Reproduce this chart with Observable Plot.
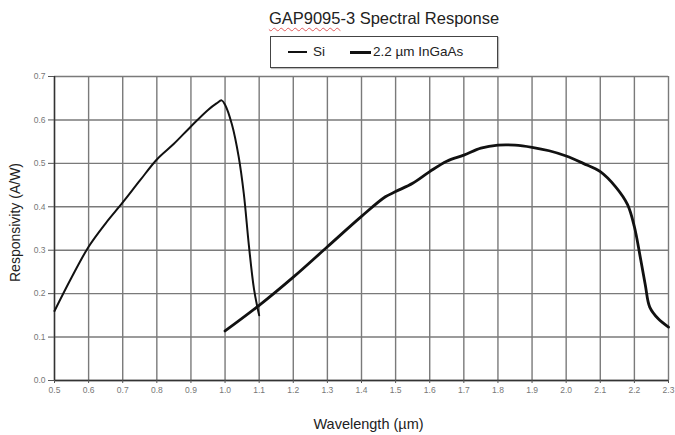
<!DOCTYPE html>
<html>
<head>
<meta charset="utf-8">
<script src="https://cdn.jsdelivr.net/npm/d3@7"></script>
<script src="https://cdn.jsdelivr.net/npm/@observablehq/plot@0.6"></script>
<style>
  html, body { margin: 0; padding: 0; background: #fff; }
  body { width: 675px; height: 435px; overflow: hidden; font-family: "Liberation Sans", Arial, sans-serif; }
  #header { position: relative; width: 675px; height: 70px; }
  #title { position: absolute; left: 184px; width: 400px; top: 9px; text-align: center; font-size: 16.5px; color: #222; }
  #title .sq { text-decoration: underline wavy #e05a5a; text-decoration-thickness: 1px; text-underline-offset: 3px; }
  #legend { position: absolute; left: 270px; top: 36px; width: 226px; height: 30px; border: 1px solid #444; box-shadow: 1px 1px 1px #bbb; font-size: 13.5px; color: #222; }
  .item { position: absolute; top: 7px; white-space: nowrap; }
  .swatch { position: absolute; height: 0; border-top-style: solid; border-top-color: #111; }
  #chart svg { display: block; }
</style>
</head>
<body>
<div id="header">
  <div id="title"><span class="sq">GAP9095</span>-3 Spectral Response</div>
  <div id="legend"></div>
</div>
<div id="chart"></div>
<script>
// ---- data ----
const seriesNames = ["Si", "2.2 µm InGaAs"];

const siWavelength = [0.5, 0.55, 0.6, 0.65, 0.7, 0.75, 0.8, 0.85, 0.9, 0.95, 0.975, 0.99, 1.0, 1.02, 1.04, 1.055, 1.07, 1.085, 1.1];
const siResponse   = [0.16, 0.237, 0.308, 0.362, 0.41, 0.46, 0.509, 0.545, 0.585, 0.623, 0.638, 0.645, 0.635, 0.59, 0.515, 0.43, 0.31, 0.21, 0.15];

const ingaasWavelength = [1.0, 1.1, 1.2, 1.3, 1.4, 1.47, 1.5, 1.55, 1.6, 1.65, 1.7, 1.75, 1.8, 1.85, 1.9, 1.95, 2.0, 2.05, 2.1, 2.145, 2.18, 2.2, 2.217, 2.232, 2.245, 2.27, 2.3];
const ingaasResponse   = [0.114, 0.173, 0.238, 0.308, 0.378, 0.423, 0.435, 0.454, 0.481, 0.505, 0.519, 0.535, 0.542, 0.542, 0.537, 0.529, 0.517, 0.5, 0.481, 0.446, 0.405, 0.354, 0.285, 0.22, 0.169, 0.142, 0.123];

const xTicks = [0.5, 0.6, 0.7, 0.8, 0.9, 1.0, 1.1, 1.2, 1.3, 1.4, 1.5, 1.6, 1.7, 1.8, 1.9, 2.0, 2.1, 2.2, 2.3];
const yTicks = [0.0, 0.1, 0.2, 0.3, 0.4, 0.5, 0.6, 0.7];

const xLabel = "Wavelength (µm)";
const yLabel = "Responsivity (A/W)";

// ---- build ----
const si = siWavelength.map((w, i) => ({w, r: siResponse[i]}));
const ingaas = ingaasWavelength.map((w, i) => ({w, r: ingaasResponse[i]}));

// legend
const legend = document.getElementById("legend");
const legendSpec = [
  {name: seriesNames[0], lx: 17, lw: 19, sw: 2, tx: 42},
  {name: seriesNames[1], lx: 79, lw: 21, sw: 3, tx: 102}
];
for (const s of legendSpec) {
  const sw = document.createElement("div");
  sw.className = "swatch";
  sw.style.left = s.lx + "px";
  sw.style.width = s.lw + "px";
  sw.style.top = (15 - s.sw / 2) + "px";
  sw.style.borderTopWidth = s.sw + "px";
  legend.appendChild(sw);
  const t = document.createElement("div");
  t.className = "item";
  t.style.left = s.tx + "px";
  t.textContent = s.name;
  legend.appendChild(t);
}

const chart = Plot.plot({
  width: 675,
  height: 365,
  marginTop: 6,
  marginBottom: 55,
  marginLeft: 54,
  marginRight: 7,
  style: {fontFamily: "'Liberation Sans', Arial, sans-serif", background: "#fff"},
  x: {domain: [0.5, 2.3]},
  y: {domain: [0, 0.7]},
  marks: [
    Plot.ruleX(xTicks, {stroke: "#7a7a7a", strokeWidth: 1.4}),
    Plot.ruleY(yTicks, {stroke: "#7a7a7a", strokeWidth: 1.4}),
    Plot.ruleX([0.5], {stroke: "#333", strokeWidth: 1.4}),
    Plot.ruleY([0], {stroke: "#333", strokeWidth: 1.4}),
    Plot.axisX({ticks: xTicks, tickFormat: d => d.toFixed(1), tickSize: 3, tickPadding: 3,
      fontSize: 8.5, fill: "#777", stroke: "#555", label: null}),
    Plot.axisY({ticks: yTicks, tickFormat: d => d.toFixed(1), tickSize: 6, tickPadding: 3,
      fontSize: 8.5, fill: "#777", stroke: "#555", label: null}),
    Plot.text([xLabel], {frameAnchor: "bottom", dy: 48, dx: 7, fontSize: 14.5, fill: "#222"}),
    Plot.text([yLabel], {frameAnchor: "left", textAnchor: "middle", dx: -39, dy: -6, rotate: -90, fontSize: 14, fill: "#222"}),
    Plot.line(si, {x: "w", y: "r", stroke: "#111", strokeWidth: 2, curve: "catmull-rom"}),
    Plot.line(ingaas, {x: "w", y: "r", stroke: "#111", strokeWidth: 2.8, curve: "catmull-rom"})
  ]
});
document.getElementById("chart").appendChild(chart);
</script>
</body>
</html>
